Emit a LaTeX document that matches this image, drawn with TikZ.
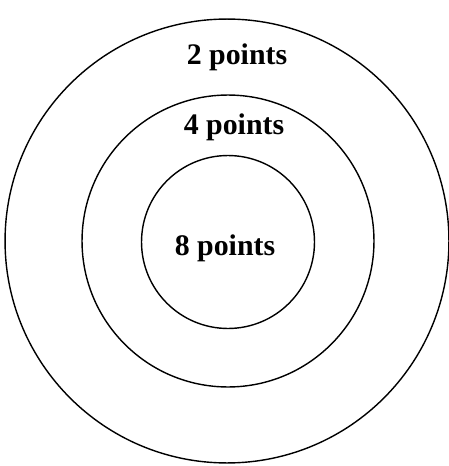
\documentclass[tikz,border=0pt]{standalone}
\usepackage{fontspec}
\setmainfont{Liberation Serif}
\usepackage{tikz}
\usetikzlibrary{positioning}
\tikzset{
  ring/.style={draw, circle, line width=0.8pt, inner sep=0pt},
  score/.style={font=\fontsize{17}{20}\selectfont\bfseries, inner sep=1pt},
}
\begin{document}
\begin{tikzpicture}[x=0.02cm, y=-0.02cm]
  \useasboundingbox (0,0) rectangle (449,466);
  \node[ring, minimum size=8.88cm] (outer) at (227,241) {};
  \node[ring, minimum size=5.84cm] (middle) at (228,241) {};
  \node[ring, minimum size=3.46cm] (inner) at (228,242) {};
  \node[score] (two) at (237,57) {2 points};
  \node[score] (four) at (234,127) {4 points};
  \node[score] (eight) at (225,248) {8 points};
\end{tikzpicture}
\end{document}
